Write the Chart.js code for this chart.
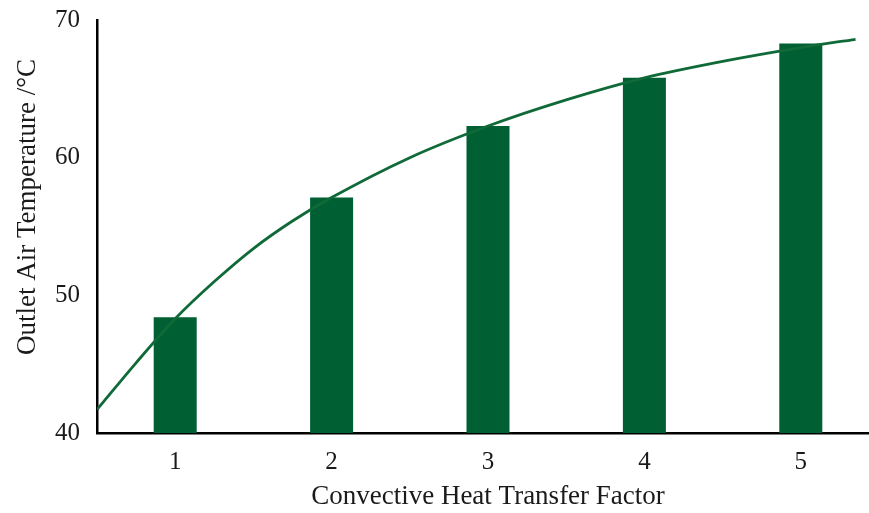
<!DOCTYPE html>
<html>
<head>
<meta charset="utf-8">
<script src="https://cdn.jsdelivr.net/npm/chart.js@4.4.1/dist/chart.umd.min.js"></script>
<style>
  html, body { margin: 0; padding: 0; background: #fff; overflow: hidden; }
  #wrap { width: 880px; height: 513px; }
</style>
</head>
<body>
<div id="wrap"><canvas id="c" width="880" height="513"></canvas></div>
<script>
// Convective heat transfer factor categories
const categories = ['1', '2', '3', '4', '5'];
// Outlet air temperature per factor (°C)
const outletTemp = [48.4, 57.1, 62.3, 65.8, 68.3];
// Fitted trend curve: factor positions and temperatures
const trendX = [0.5, 0.75, 1, 1.25, 1.5, 1.75, 2, 2.5, 3, 3.5, 4, 4.5, 5, 5.35];
const trendY = [41.7, 45.1, 48.3, 51.0, 53.4, 55.4, 57.1, 60.0, 62.3, 64.2, 65.8, 67.0, 68.0, 68.6];
// Value axis ticks
const yTicks = [40, 50, 60, 70];

const GREEN = '#005f33';
const SERIF = '"Liberation Serif", "Times New Roman", serif';

// Rotated value-axis title drawn beside the tick labels
const yTitlePlugin = {
  id: 'yTitle',
  afterDraw(chart) {
    const ctx = chart.ctx;
    ctx.save();
    ctx.translate(28, 207);
    ctx.rotate(-Math.PI / 2);
    ctx.font = '27px ' + SERIF;
    ctx.fillStyle = '#1a1a1a';
    ctx.textAlign = 'center';
    ctx.textBaseline = 'middle';
    ctx.fillText('Outlet Air Temperature /°C', 0, 0);
    ctx.restore();
  }
};

new Chart(document.getElementById('c'), {
  type: 'bar',
  data: {
    labels: categories,
    datasets: [
      {
        type: 'line',
        data: trendX.map((x, i) => ({ x: x, y: trendY[i] })),
        xAxisID: 'xl',
        yAxisID: 'y',
        borderColor: '#0f6a38',
        borderWidth: 2.8,
        pointRadius: 0,
        cubicInterpolationMode: 'monotone',
        fill: false,
        order: 0
      },
      {
        type: 'bar',
        data: outletTemp,
        xAxisID: 'x',
        yAxisID: 'y',
        backgroundColor: GREEN,
        borderWidth: 0,
        grouped: false,
        barPercentage: 0.275,
        categoryPercentage: 1,
        order: 1
      }
    ]
  },
  options: {
    responsive: false,
    devicePixelRatio: 1,
    animation: false,
    layout: { padding: { top: 20, right: 1, left: 0, bottom: 0 } },
    plugins: {
      legend: { display: false },
      tooltip: { enabled: false }
    },
    scales: {
      x: {
        type: 'category',
        offset: true,
        grid: { display: false, drawTicks: false },
        border: { display: true, color: '#000', width: 2.5 },
        ticks: {
          color: '#1a1a1a',
          font: { family: SERIF, size: 25 },
          padding: 14
        },
        title: {
          display: true,
          text: 'Convective Heat Transfer Factor',
          color: '#1a1a1a',
          font: { family: SERIF, size: 27 },
          padding: { top: 6, bottom: 0 }
        },
        afterFit(scale) {
          scale.height = 80;
          scale.paddingLeft = 0;
          scale.paddingRight = 0;
        }
      },
      xl: {
        type: 'linear',
        min: 0.5,
        max: 5.5,
        offset: false,
        display: false
      },
      y: {
        type: 'linear',
        min: 40,
        max: 70,
        afterBuildTicks(scale) { scale.ticks = yTicks.map(v => ({ value: v })); },
        grid: { display: false, drawTicks: false },
        border: { display: true, color: '#000', width: 2.5 },
        ticks: {
          color: '#1a1a1a',
          font: { family: SERIF, size: 25 },
          padding: 17
        },
        afterFit(scale) {
          scale.width = 97;
          scale.paddingTop = 0;
          scale.paddingBottom = 0;
        }
      }
    }
  },
  plugins: [yTitlePlugin]
});
</script>
</body>
</html>
